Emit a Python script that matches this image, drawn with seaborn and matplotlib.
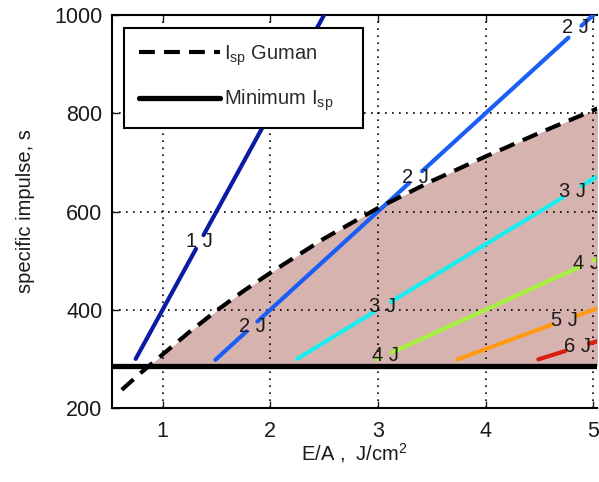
import numpy as np
import pandas as pd
import matplotlib
matplotlib.use("Agg")
import matplotlib.pyplot as plt
import seaborn as sns

# ---- data ----
guman_E = [0.62, 0.80, 1.00, 1.25, 1.50, 1.75, 2.00, 2.50, 3.00, 3.50, 4.00, 4.50, 5.00, 5.04]
guman_I = [237, 272, 309, 355, 398, 438, 475, 545, 607, 662, 712, 760, 806, 810]
min_isp = 285

# contour segments (level, segment id, E, Isp) with gaps where labels sit
c1_E = [0.75, 1.31, 1.38, 2.50]
c1_I = [300, 524, 552, 1000]
c1_seg = [0, 0, 1, 1]
c2_E = [1.49, 1.78, 1.88, 3.29, 3.41, 4.77, 4.89, 5.02]
c2_I = [298, 356, 376, 658, 682, 954, 978, 1004]
c2_seg = [0, 0, 1, 1, 2, 2, 3, 3]
c3_E = [2.25, 2.96, 3.12, 4.72, 4.89, 5.04]
c3_I = [300, 395, 416, 629, 652, 672]
c3_seg = [0, 0, 1, 1, 2, 2]
c4_E = [2.99, 3.02, 3.13, 4.89, 5.00, 5.04]
c4_I = [299, 302, 313, 489, 500, 504]
c4_seg = [0, 0, 1, 1, 2, 2]
c5_E = [3.74, 4.62, 4.84, 5.04]
c5_I = [299, 370, 387, 403]
c5_seg = [0, 0, 1, 1]
c6_E = [4.49, 4.74, 4.96, 5.04]
c6_I = [299, 316, 331, 336]
c6_seg = [0, 0, 1, 1]

contour_levels = ["1 J", "2 J", "3 J", "4 J", "5 J", "6 J"]
contour_colors = ["#0b1ba3", "#1a5ef5", "#18eef0", "#a6f03e", "#ff9a12", "#d8200e"]

label_E = [1.345, 1.83, 3.35, 4.83, 3.04, 4.81, 3.07, 4.94, 4.73, 4.85]
label_I = [538, 366, 670, 975, 407, 640, 307, 494, 378, 326]
label_txt = ["1 J", "2 J", "2 J", "2 J", "3 J", "3 J", "4 J", "4 J", "5 J", "6 J"]

x_ticks = [1, 2, 3, 4, 5]
y_ticks = [200, 400, 600, 800, 1000]

# ---- styling ----
sns.set_style("ticks")
plt.rcParams["font.family"] = ["Liberation Sans", "DejaVu Sans"]
plt.rcParams["mathtext.fontset"] = "custom"
plt.rcParams["mathtext.rm"] = "Liberation Sans"
plt.rcParams["mathtext.it"] = "Liberation Sans:italic"
plt.rcParams["axes.axisbelow"] = "line"

fig = plt.figure(figsize=(5.99, 4.82), dpi=100)
ax = fig.add_axes([0.187, 0.1535, 0.8097, 0.8154])

xmin, xmax = 0.53, 5.035
ax.set_xlim(xmin, xmax)
ax.set_ylim(200, 1000)

# shaded region between minimum Isp and Guman curve
gE = np.array(guman_E)
gI = np.array(guman_I)
ax.fill_between(gE, min_isp, gI, where=gI >= min_isp, interpolate=True,
                color="#d7b3b0", linewidth=0, zorder=1)

# contour lines
cE = [c1_E, c2_E, c3_E, c4_E, c5_E, c6_E]
cI = [c1_I, c2_I, c3_I, c4_I, c5_I, c6_I]
cS = [c1_seg, c2_seg, c3_seg, c4_seg, c5_seg, c6_seg]
for lvl, col, E, I, S in zip(contour_levels, contour_colors, cE, cI, cS):
    df = pd.DataFrame({"E": E, "Isp": I, "seg": S})
    sns.lineplot(data=df, x="E", y="Isp", units="seg", estimator=None, sort=False,
                 color=col, linewidth=3.0, ax=ax, zorder=3, legend=False)

for e, i, t in zip(label_E, label_I, label_txt):
    ax.text(e, i, t, ha="center", va="center", fontsize=14.5, color="#1a1a1a",
            zorder=4, clip_on=True)

# Guman dashed
gdf = pd.DataFrame({"E": guman_E, "Isp": guman_I})
sns.lineplot(data=gdf, x="E", y="Isp", color="black", linewidth=3.0,
             dashes=False, ax=ax, zorder=4, label=r"I$_{\mathrm{sp}}$ Guman")
ax.lines[-1].set_dashes((3.8, 2.2))

# Minimum Isp
mdf = pd.DataFrame({"E": [xmin, xmax], "Isp": [min_isp, min_isp]})
sns.lineplot(data=mdf, x="E", y="Isp", color="black", linewidth=3.8, ax=ax,
             zorder=5, label=r"Minimum I$_{\mathrm{sp}}$")

# grid
ax.set_xticks(x_ticks)
ax.set_yticks(y_ticks)
ax.grid(True, color="black", linestyle=(0, (1, 3.2)), linewidth=1.2)

ax.tick_params(direction="in", length=5, width=1, top=True, right=False,
               labelsize=15.5, colors="#1a1a1a")
ax.tick_params(axis="x", pad=9)
ax.tick_params(axis="y", pad=7)
for s in ["left", "bottom", "top"]:
    ax.spines[s].set_color("black")
    ax.spines[s].set_linewidth(1.5)
ax.spines["right"].set_visible(False)

ax.set_xlabel(r"E/A ,  J/cm$^2$", fontsize=14.5, color="#1a1a1a", labelpad=0)
ax.set_ylabel("specific impulse, s", fontsize=14.5, color="#1a1a1a", labelpad=14)

leg = ax.legend(loc="upper left", bbox_to_anchor=(0.025, 0.967, 0.493, 0.0),
                mode="expand", fontsize=14.5, frameon=True, fancybox=False,
                edgecolor="black", framealpha=1, borderpad=0.75,
                labelspacing=1.0, handlelength=4.0, handletextpad=0.2,
                borderaxespad=0)
leg.get_frame().set_linewidth(1.5)
leg.set_zorder(10)
for t in leg.get_texts():
    t.set_color("#2a2a2a")

fig.savefig("out.png", dpi=100)
